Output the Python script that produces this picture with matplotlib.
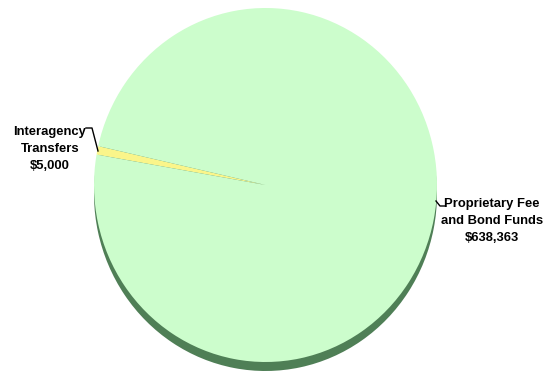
import matplotlib
matplotlib.use("Agg")
import matplotlib.pyplot as plt
from matplotlib.lines import Line2D
from matplotlib import font_manager

categories = ["Interagency\nTransfers", "Proprietary Fee\nand Bond Funds"]
values = [5000, 638363]
value_labels = ["$5,000", "$638,363"]
colors = ["#FAF58A", "#CCFDCC"]
shadow_color = "#4F7F56"

W, H = 552, 373
fig = plt.figure(figsize=(W / 100, H / 100), dpi=100)

# pie area in pixel coordinates
left, right, top, bottom = 94, 437, 8, 362
ax = fig.add_axes([left / W, 1 - bottom / H, (right - left) / W, (bottom - top) / H])

total = sum(values)
span0 = 360 * values[0] / total
start = 168.7 - span0 / 2

# 3D-ish side drawn below
dy = 9 / ((bottom - top) / 2)
sh, _ = ax.pie(values, colors=[shadow_color, shadow_color], startangle=start,
               center=(0, -dy), radius=1.0, wedgeprops=dict(linewidth=0))
for w in sh:
    w.set_clip_on(False)
    w.set_zorder(1)
wedges, _ = ax.pie(values, colors=colors, startangle=start, center=(0, 0),
                   radius=1.0, wedgeprops=dict(linewidth=0))
for w in wedges:
    w.set_clip_on(False)
    w.set_zorder(2)

ax.set_aspect("auto")
ax.set_xlim(-1, 1)
ax.set_ylim(-1, 1)
ax.axis("off")

names = {f.name for f in font_manager.fontManager.ttflist}
if "Liberation Sans Narrow" in names:
    fam, fs = "Liberation Sans Narrow", 11.0
else:
    fam, fs = "Liberation Sans", 9.4
font = dict(family=[fam, "DejaVu Sans"], fontsize=fs, fontweight="bold",
            color="black", linespacing=1.58)

fig.text(50 / W, 1 - 149 / H, categories[0] + "\n" + value_labels[0],
         ha="center", va="center", **font)
fig.text(492 / W, 1 - 221 / H, categories[1] + "\n" + value_labels[1],
         ha="center", va="center", **font)

# leader lines
fig.add_artist(Line2D([86 / W, 92 / W, 98 / W], [1 - 128 / H, 1 - 128 / H, 1 - 151 / H],
                      color="black", lw=1.0))
fig.add_artist(Line2D([436 / W, 440 / W, 445 / W], [1 - 201 / H, 1 - 206 / H, 1 - 206 / H],
                      color="black", lw=1.0))

fig.savefig("out.png", dpi=100, facecolor="white")
